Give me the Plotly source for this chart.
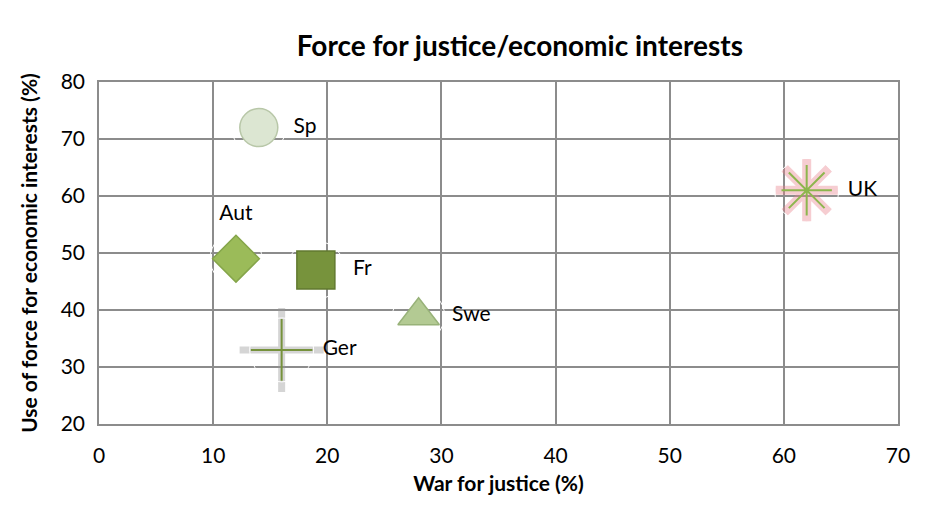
import plotly.graph_objects as go

# data
countries = ["Sp", "Aut", "Fr", "Swe", "Ger", "UK"]
war_for_justice = [14, 12, 19, 28, 16, 62]
force_for_economic = [72, 49, 47, 39, 33, 61]

symbols = ["circle", "diamond", "square", "triangle-up", "cross-thin-open", "asterisk-open"]
fill_colors = ["#dce6d2", "#9bbb59", "#77933c", "#b3ca93", "#76923c", "#8db64d"]
line_colors = ["#b8c7a8", "#85a54a", "#62792f", "#98b279", "#76923c", "#8db64d"]
sizes = [38, 36, 38, 36, 44, 42]
# invisible marker sizes just to push the labels away from the points
label_pad = [54, 52, 58, 52, 64, 64]
text_pos = ["middle right", "top center", "middle right", "middle right", "middle right", "middle right"]

FONT = "Lato, 'Open Sans', sans-serif"

fig = go.Figure()

# soft glow under the UK asterisk and shadow under the Ger cross
fig.add_trace(go.Scatter(
    x=[war_for_justice[5]], y=[force_for_economic[5]], mode="markers",
    marker=dict(symbol="asterisk-open", size=52, color="rgba(232,130,140,0.40)",
                line=dict(color="rgba(232,130,140,0.40)", width=9)),
    hoverinfo="skip", showlegend=False))
fig.add_trace(go.Scatter(
    x=[war_for_justice[4]], y=[force_for_economic[4]], mode="markers",
    marker=dict(symbol="cross-thin-open", size=60, color="rgba(150,150,150,0.40)",
                line=dict(color="rgba(150,150,150,0.40)", width=7)),
    hoverinfo="skip", showlegend=False))

fig.add_trace(go.Scatter(
    x=war_for_justice, y=force_for_economic,
    mode="markers",
    marker=dict(symbol=symbols, size=sizes, color=fill_colors, opacity=1,
                line=dict(color=line_colors, width=[1.5, 1.5, 1.5, 1.5, 2, 2])),
    showlegend=False))

# labels
fig.add_trace(go.Scatter(
    x=war_for_justice, y=force_for_economic,
    mode="markers+text", text=countries, textposition=text_pos,
    textfont=dict(family=FONT, size=21, color="#000000"),
    marker=dict(size=label_pad, color="rgba(0,0,0,0)", opacity=1),
    hoverinfo="skip", showlegend=False))

# page body has an 8px margin; keep a little slack so no scrollbar shows up
fig.update_layout(
    width=914, height=496,
    paper_bgcolor="white", plot_bgcolor="white",
    margin=dict(l=91, r=13, t=74, b=74),
    title=dict(text="<b>Force for justice/economic interests</b>",
               x=0.56, xanchor="center", y=0.923, yanchor="middle",
               font=dict(family=FONT, size=28, color="#000000")),
    xaxis=dict(range=[0, 70], dtick=10, showgrid=True, gridcolor="#8c8c8c", gridwidth=1.5,
               showline=True, linecolor="#8c8c8c", linewidth=1.5, mirror=True,
               zeroline=False, ticks="outside", ticklen=12, tickcolor="rgba(0,0,0,0)",
               tickfont=dict(family=FONT, size=21, color="#000"),
               title=dict(text="<b>War for justice (%)</b>", standoff=10,
                          font=dict(family=FONT, size=21, color="#000"))),
    yaxis=dict(range=[20, 80], dtick=10, showgrid=True, gridcolor="#8c8c8c", gridwidth=1.5,
               showline=True, linecolor="#8c8c8c", linewidth=1.5, mirror=True,
               zeroline=False, ticks="outside", ticklen=8, tickcolor="rgba(0,0,0,0)",
               tickfont=dict(family=FONT, size=21, color="#000"),
               title=dict(text="<b>Use of force for economic interests (%)</b>", standoff=17,
                          font=dict(family=FONT, size=21, color="#000"))),
)

fig.write_html("out.html")
